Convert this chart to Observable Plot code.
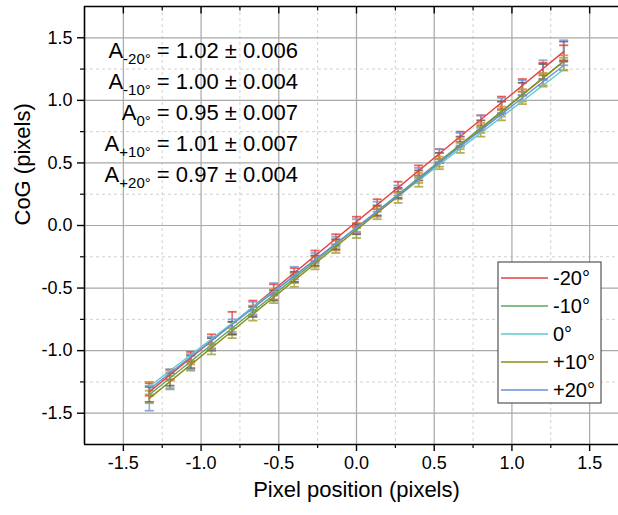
<!DOCTYPE html>
<html><head><meta charset="utf-8">
<script src="https://cdn.jsdelivr.net/npm/d3@7"></script>
<script src="https://cdn.jsdelivr.net/npm/@observablehq/plot@0.6"></script>
<style>
html,body{margin:0;padding:0;background:#fff;overflow:hidden}
#chart{width:618px;height:515px;position:relative;overflow:hidden}
#chart svg{font-family:Arial,"Liberation Sans",sans-serif}
</style></head><body><div id="chart"></div>
<script>
// ---- data ----
const pixelPos = [-1.333,-1.2,-1.067,-0.933,-0.8,-0.667,-0.533,-0.4,-0.267,-0.133,0,0.133,0.267,0.4,0.533,0.667,0.8,0.933,1.067,1.2,1.333];
const seriesNames = ["-20°","-10°","0°","+10°","+20°"];
const lineColors = ["#e3413f","#5ca85c","#5fcacc","#8c8c1c","#6b8fd6"];
const barColors = ["#e8463c","#e08a2c","#5e5e5e","#a3a33a","#7b96dc"];
const fitSlope = [1.02,1.00,0.95,1.01,0.97];
const fitSlopeErr = ["0.006","0.004","0.007","0.007","0.004"];
const fitIntercept = [0.03,-0.02,-0.02,-0.035,-0.015];
const subLabels = ["-20°","-10°","0°","+10°","+20°"];

const cogM20 = [-1.31,-1.19,-1.05,-0.91,-0.78,-0.64,-0.51,-0.37,-0.24,-0.11,0.03,0.17,0.31,0.44,0.57,0.71,0.84,0.98,1.12,1.25,1.38];
const errM20 = [0.05,0.04,0.04,0.04,0.09,0.04,0.04,0.03,0.04,0.04,0.04,0.04,0.04,0.04,0.04,0.04,0.04,0.05,0.05,0.05,0.06];
const cogM10 = [-1.30,-1.20,-1.07,-0.94,-0.82,-0.68,-0.55,-0.42,-0.29,-0.16,-0.02,0.11,0.25,0.38,0.51,0.65,0.78,0.91,1.04,1.17,1.30];
const errM10 = [0.05,0.04,0.04,0.04,0.05,0.04,0.04,0.04,0.04,0.04,0.04,0.04,0.04,0.04,0.04,0.04,0.04,0.04,0.05,0.05,0.06];
const cogZ0 = [-1.35,-1.23,-1.09,-0.95,-0.82,-0.69,-0.56,-0.41,-0.28,-0.15,-0.03,0.12,0.26,0.40,0.54,0.67,0.80,0.94,1.09,1.23,1.39];
const errZ0 = [0.06,0.05,0.05,0.05,0.05,0.04,0.04,0.04,0.04,0.04,0.04,0.04,0.04,0.04,0.04,0.04,0.04,0.05,0.05,0.06,0.08];
const cogP10 = [-1.37,-1.25,-1.12,-0.99,-0.86,-0.72,-0.58,-0.45,-0.32,-0.19,-0.06,0.09,0.22,0.35,0.49,0.62,0.75,0.88,1.02,1.16,1.29];
const errP10 = [0.05,0.05,0.04,0.04,0.04,0.04,0.04,0.04,0.03,0.03,0.04,0.04,0.04,0.04,0.04,0.04,0.04,0.04,0.05,0.05,0.05];
const cogP20 = [-1.38,-1.23,-1.09,-0.94,-0.80,-0.66,-0.51,-0.38,-0.26,-0.13,0.00,0.15,0.28,0.42,0.56,0.69,0.83,0.96,1.10,1.24,1.38];
const errP20 = [0.10,0.08,0.06,0.05,0.05,0.05,0.05,0.05,0.04,0.04,0.05,0.04,0.04,0.04,0.05,0.05,0.05,0.06,0.06,0.08,0.10];

const majorTicks = [-1.5,-1.0,-0.5,0.0,0.5,1.0,1.5];
const minorTicks = [-1.25,-0.75,-0.25,0.25,0.75,1.25];

// ---- build tables ----
const cogs = [cogM20,cogM10,cogZ0,cogP10,cogP20];
const errs = [errM20,errM10,errZ0,errP10,errP20];
const points = [];
cogs.forEach((arr, s) => arr.forEach((v, i) => points.push({s, x: pixelPos[i], y: v, e: errs[s][i]})));
const fitLines = [];
seriesNames.forEach((name, s) => {
  [pixelPos[0], pixelPos[pixelPos.length-1]].forEach(x => fitLines.push({s, x, y: fitSlope[s]*x + fitIntercept[s]}));
});
const caps = [];
points.forEach(p => { caps.push({s:p.s, x:p.x, y:p.y - p.e}); caps.push({s:p.s, x:p.x, y:p.y + p.e}); });

const capSymbol = {draw(ctx){ ctx.moveTo(-4.5,0); ctx.lineTo(4.5,0); }};
const tickDown = (len) => ({draw(ctx){ ctx.moveTo(0,0); ctx.lineTo(0,len); }});

const plot = Plot.plot({
  width: 618, height: 515,
  marginLeft: 84, marginRight: -10, marginTop: 6, marginBottom: 71,
  x: {domain: [-1.75, 1.75], axis: null},
  y: {domain: [-1.75, 1.75], axis: null},
  style: {fontFamily: 'Arial,"Liberation Sans",sans-serif', background: "#fff", overflow: "hidden"},
  marks: [
    Plot.ruleX(minorTicks, {stroke: "#d0d0d0", strokeDasharray: "3,3", strokeWidth: 1}),
    Plot.ruleY(minorTicks, {stroke: "#d0d0d0", strokeDasharray: "3,3", strokeWidth: 1}),
    Plot.ruleX(majorTicks, {stroke: "#a8a8a8", strokeWidth: 1.2}),
    Plot.ruleY(majorTicks, {stroke: "#a8a8a8", strokeWidth: 1.2}),
    // error bars
    Plot.ruleX(points, {x: "x", y1: d => d.y - d.e, y2: d => d.y + d.e, stroke: d => barColors[d.s], strokeWidth: 1.6, strokeOpacity: 0.8}),
    Plot.dot(caps, {x: "x", y: "y", symbol: capSymbol, fill: "none", stroke: d => barColors[d.s], strokeWidth: 1.8, strokeOpacity: 0.85}),
    // fit lines
    Plot.line(fitLines, {x: "x", y: "y", z: "s", stroke: d => lineColors[d.s], strokeWidth: 1.4}),
    // frame
    Plot.ruleX([-1.75], {stroke: "black", strokeWidth: 1.6}),
    Plot.ruleY([-1.75], {stroke: "black", strokeWidth: 1.6}),
    Plot.ruleY([1.75], {stroke: "black", strokeWidth: 1.6}),
    // axes
    Plot.axisY(majorTicks, {anchor: "left", tickSize: 7, tickPadding: 5, fontSize: 18, tickFormat: d => d.toFixed(1), label: null, strokeWidth: 1.4}),
    Plot.axisY(minorTicks, {anchor: "left", tickSize: 4, tickFormat: () => "", label: null, strokeWidth: 1.2}),
    Plot.axisX(majorTicks, {anchor: "bottom", tickSize: 7, tickPadding: 5, fontSize: 18, tickFormat: d => d.toFixed(1), label: null, strokeWidth: 1.4}),
    Plot.axisX(minorTicks, {anchor: "bottom", tickSize: 4, tickFormat: () => "", label: null, strokeWidth: 1.2}),
    Plot.dot(majorTicks, {x: d => d, y: () => 1.75, symbol: tickDown(7), fill: "none", stroke: "black", strokeWidth: 1.4}),
    Plot.dot(minorTicks, {x: d => d, y: () => 1.75, symbol: tickDown(4), fill: "none", stroke: "black", strokeWidth: 1.2}),
    Plot.text(["Pixel position (pixels)"], {frameAnchor: "bottom", dy: 52, fontSize: 22, fill: "black"}),
    Plot.text(["CoG (pixels)"], {frameAnchor: "left", dx: -62, rotate: -90, fontSize: 22, fill: "black"})
  ]
});
document.getElementById("chart").appendChild(plot);

// ---- legend ----
const svg = d3.select(plot);
const lg = svg.append("g").attr("transform", "translate(498,262)");
lg.append("rect").attr("width", 103).attr("height", 141).attr("fill", "white").attr("stroke", "#333").attr("stroke-width", 1);
seriesNames.forEach((name, i) => {
  const y = 16 + i * 28;
  lg.append("line").attr("x1", 3).attr("x2", 50).attr("y1", y).attr("y2", y).attr("stroke", lineColors[i]).attr("stroke-width", 1.6);
  lg.append("text").attr("x", 55).attr("y", y).attr("dy", "0.35em").attr("text-anchor", "start").attr("font-size", 20).attr("fill", "black").text(name);
});

// ---- annotation ----
const an = svg.append("g");
subLabels.forEach((sub, i) => {
  const t = an.append("text").attr("x", 298).attr("y", 58 + i * 31).attr("text-anchor", "end").attr("font-size", 22).attr("fill", "black");
  t.append("tspan").text("A");
  t.append("tspan").attr("font-size", 15).attr("dy", 6).text(sub);
  t.append("tspan").attr("dy", -6).text(" = " + fitSlope[i].toFixed(2) + " \u00B1 " + fitSlopeErr[i]);
});
</script></body></html>
